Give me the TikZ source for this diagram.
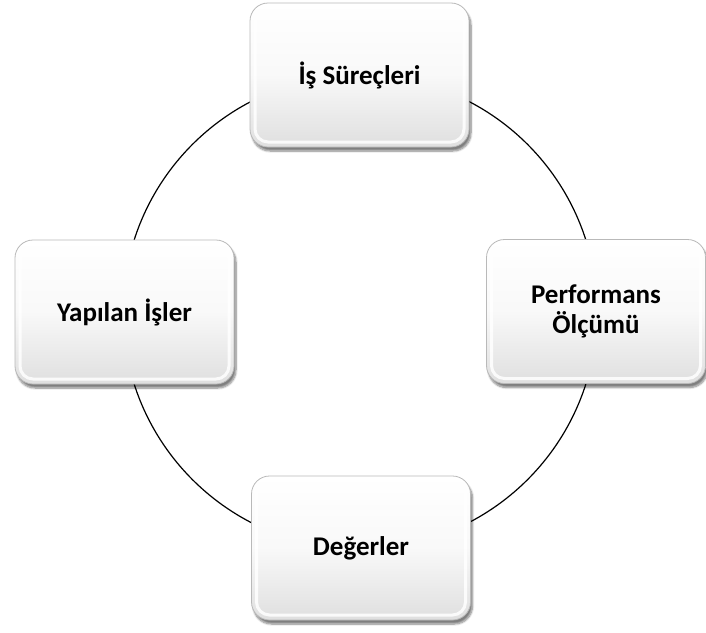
\documentclass[tikz,border=0pt]{standalone}
\usepackage{fontspec}
\setmainfont{Carlito}
\usetikzlibrary{shadows.blur,backgrounds}

\tikzset{
  cyclebox/.style={
    rectangle, rounded corners=18pt,
    minimum width=219pt, minimum height=144pt, inner sep=0pt,
    align=center, text=black,
    font=\fontsize{27}{30}\selectfont\bfseries,
    draw=gray!55, line width=0.8pt,
    top color=white, bottom color=gray!25, middle color=white!95!gray,
    blur shadow={shadow xshift=2pt, shadow yshift=-4pt,
                 shadow blur steps=8, shadow blur extra rounding=2pt,
                 shadow opacity=50},
    path picture={
      \draw[white, line width=3pt, rounded corners=13pt, opacity=0.85]
        ([shift={(5pt,-5pt)}]path picture bounding box.north west) rectangle
        ([shift={(-5pt,5pt)}]path picture bounding box.south east);
    }
  },
  ring/.style={draw=black, line width=1.2pt}
}

\begin{document}
\begin{tikzpicture}[x=1pt,y=-1pt]
  \useasboundingbox (0,0) rectangle (706,632);

  % centre of the cycle
  \coordinate (hub) at (360,312);

  \node[cyclebox] (surec) at (359.5,75)  {İş Süreçleri};
  \node[cyclebox] (perf)  at (596,311.5) {Performans\\Ölçümü};
  \node[cyclebox] (deger) at (361,548)   {Değerler};
  \node[cyclebox] (isler) at (124.5,312) {Yapılan İşler};

  % the ring joining the four stages, kept behind the boxes
  \begin{scope}[on background layer]
    \draw[ring] (hub) circle[radius=237pt];
  \end{scope}
\end{tikzpicture}
\end{document}
